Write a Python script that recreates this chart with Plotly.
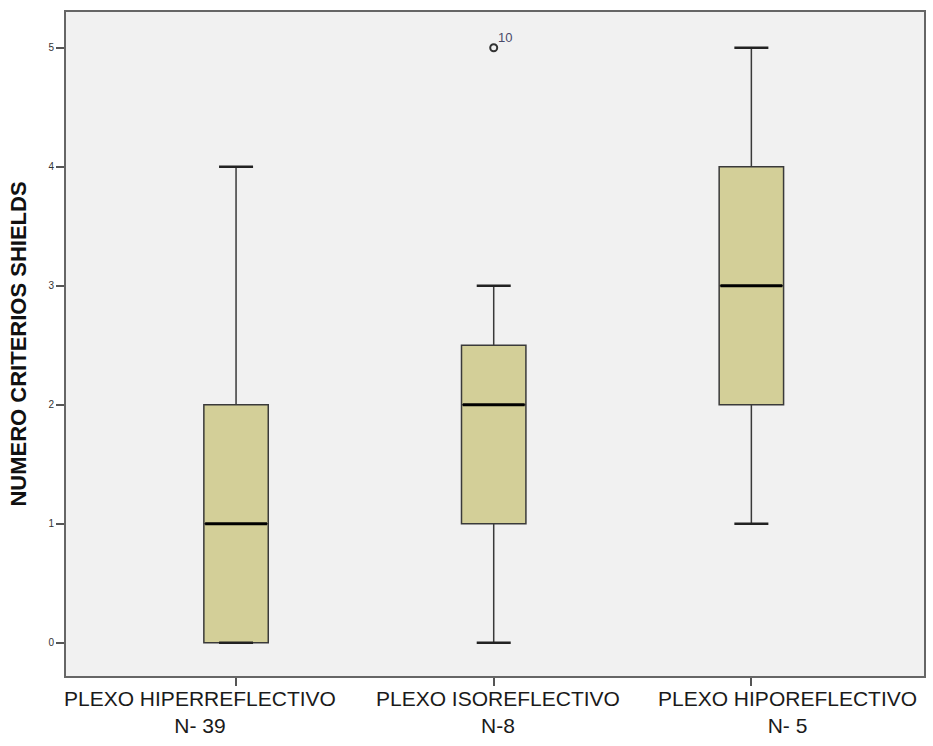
import plotly.graph_objects as go

categories = ["PLEXO HIPERREFLECTIVO<br>N- 39", "PLEXO ISOREFLECTIVO<br>N-8", "PLEXO HIPOREFLECTIVO<br>N- 5"]
q1 = [0, 1, 2]
median = [1, 2, 3]
q3 = [2, 2.5, 4]
lower = [0, 0, 1]
upper = [4, 3, 5]
outlier_x = [1]
outlier_y = [5]
outlier_labels = ["10"]
y_ticks = [0, 1, 2, 3, 4, 5]

xs = list(range(len(categories)))
box_w = 0.25
cap_half = 0.066
line_col = "#3a3a3a"
fill_col = "#d3cf98"
label_shift = [-36, 4, 36]

fig = go.Figure()
fig.add_trace(go.Box(
    x=xs, q1=q1, median=median, q3=q3, lowerfence=lower, upperfence=upper,
    width=box_w, fillcolor=fill_col, line=dict(color=line_col, width=1.5),
    boxpoints=False, showlegend=False, hoverinfo="skip",
))
for i in xs:
    for v in (lower[i], upper[i]):
        fig.add_trace(go.Scatter(x=[i - cap_half, i + cap_half], y=[v, v], mode="lines",
                                 line=dict(color="#222222", width=2.5), showlegend=False, hoverinfo="skip"))
    fig.add_trace(go.Scatter(x=[i - box_w / 2 + 0.005, i + box_w / 2 - 0.005], y=[median[i], median[i]],
                             mode="lines", line=dict(color="#000000", width=3), showlegend=False,
                             hoverinfo="skip"))
    fig.add_annotation(x=i, y=0, xref="x", yref="paper", yanchor="top", xanchor="center",
                       xshift=label_shift[i], yshift=-9, showarrow=False, text=categories[i],
                       font=dict(family="Liberation Sans, Arial, sans-serif", size=21, color="#1a1a1a"))
fig.add_trace(go.Scatter(x=outlier_x, y=outlier_y, mode="markers",
                         marker=dict(symbol="circle-open", size=7, color="#333333", line=dict(width=2)),
                         showlegend=False, hoverinfo="skip"))
for ox, oy, lab in zip(outlier_x, outlier_y, outlier_labels):
    fig.add_annotation(x=ox, y=oy, text=lab, showarrow=False, xanchor="left", yanchor="bottom",
                       xshift=2, yshift=1, font=dict(size=13, color="#4a4a6a", family="Liberation Sans"))

fig.update_layout(
    width=933, height=746,
    margin=dict(l=66, r=7, t=12, b=70),
    paper_bgcolor="white", plot_bgcolor="#f1f1f1",
    xaxis=dict(range=[-0.66, 2.67], tickvals=xs, ticktext=["", "", ""], showgrid=False, zeroline=False,
               ticks="outside", ticklen=8, tickcolor="#555555", tickwidth=1.5,
               showline=True, linecolor="#666666", linewidth=2, mirror=True),
    yaxis=dict(range=[-0.28, 5.3], tickvals=y_ticks, showgrid=False, zeroline=False,
               ticks="outside", ticklen=8, tickcolor="#555555", tickwidth=1.5,
               showline=True, linecolor="#666666", linewidth=2, mirror=True,
               tickfont=dict(family="Liberation Sans", size=10, color="#333333"),
               title=dict(text="<b>NUMERO CRITERIOS SHIELDS</b>", standoff=16,
                          font=dict(family="Liberation Sans, Arial, sans-serif", size=22,
                                    color="#111111"))),
)
fig.write_html("out.html")
